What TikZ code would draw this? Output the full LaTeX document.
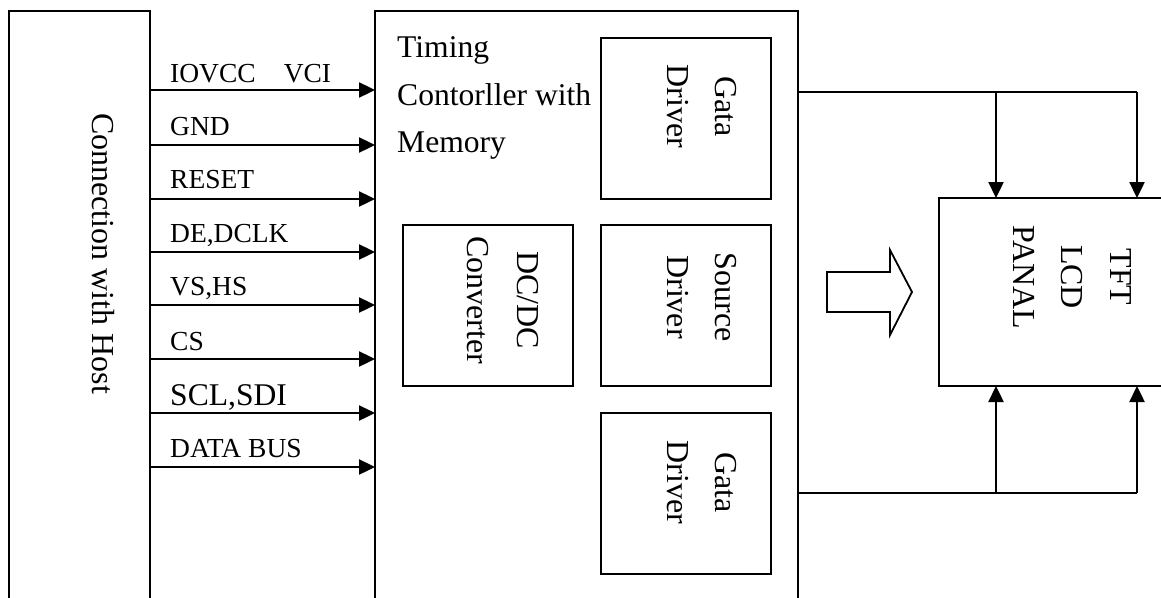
\documentclass[tikz,border=0pt]{standalone}
\usepackage{fontspec}
\setmainfont{Liberation Serif}
\usetikzlibrary{arrows.meta}
\begin{document}
\begin{tikzpicture}[x=1pt,y=-1pt,
  box/.style={draw, line width=1.8pt, inner sep=0pt, outer sep=0pt, anchor=north west},
  lbl/.style={anchor=base west, inner sep=0pt, font=\fontsize{27.5}{30}\selectfont},
  biglbl/.style={anchor=base west, inner sep=0pt, font=\fontsize{31.6}{36}\selectfont},
  rtxt/.style={rotate=-90, align=center, inner sep=0pt, font=\fontsize{32}{48}\selectfont},
  sig/.style={line width=2.4pt, -{Triangle[length=16pt,width=15pt]}},
  wire/.style={line width=1.8pt},
  varr/.style={line width=2.4pt, -{Triangle[length=16pt,width=15pt]}}]
\useasboundingbox (0,0) rectangle (1161,597);
\clip (0,0) rectangle (1161,597);

% main boxes
\node[box, minimum width=141pt, minimum height=650pt] (host) at (9,11) {};
\node[box, minimum width=423pt, minimum height=650pt] (tc) at (375,11) {};
\node[box, minimum width=300pt, minimum height=188pt] (tft) at (939,198) {};

% inner boxes
\node[box, minimum width=170pt, minimum height=161pt] (gd1) at (601,38) {};
\node[box, minimum width=170pt, minimum height=161pt] (dc) at (403,225) {};
\node[box, minimum width=170pt, minimum height=161pt] (sd) at (601,225) {};
\node[box, minimum width=170pt, minimum height=161pt] (gd2) at (601,413) {};

% texts
\node[rotate=-90, anchor=base, inner sep=0pt, font=\fontsize{32}{38}\selectfont] (hostt) at (92,253.5) {Connection with Host};
\node[biglbl] (tc1) at (397,57) {Timing};
\node[biglbl] (tc2) at (397,105) {Contorller with};
\node[biglbl] (tc3) at (397,152) {Memory};
\node[rtxt] (gd1t) at (701.5,106.5) {Gata\\Driver};
\node[rtxt, font=\fontsize{32}{50}\selectfont] (dct) at (503,300) {DC/DC\\Converter};
\node[rtxt] (sdt) at (701.5,297) {Source\\Driver};
\node[rtxt] (gd2t) at (701.5,482.5) {Gata\\Driver};
\node[rtxt, font=\fontsize{32}{48.5}\selectfont] (tftt) at (1072,277) {TFT\\LCD\\PANAL};

% signal labels
\node[lbl] (l1) at (170,82) {IOVCC\hspace{28pt}VCI};
\node[lbl] (l2) at (170,135) {GND};
\node[lbl] (l3) at (170,188) {RESET};
\node[lbl] (l4) at (170,242) {DE,DCLK};
\node[lbl] (l5) at (170,295) {VS,HS};
\node[lbl] (l6) at (170,350) {CS};
\node[biglbl] (l7) at (170,405) {SCL,SDI};
\node[lbl] (l8) at (170,457) {DATA BUS};

% signal arrows
\draw[sig] (host.east |- 0,90) -- (tc.west |- 0,90);
\draw[sig] (host.east |- 0,145) -- (tc.west |- 0,145);
\draw[sig] (host.east |- 0,199) -- (tc.west |- 0,199);
\draw[sig] (host.east |- 0,252) -- (tc.west |- 0,252);
\draw[sig] (host.east |- 0,305) -- (tc.west |- 0,305);
\draw[sig] (host.east |- 0,359) -- (tc.west |- 0,359);
\draw[sig] (host.east |- 0,413) -- (tc.west |- 0,413);
\draw[sig] (host.east |- 0,467) -- (tc.west |- 0,467);

% gate connections
\coordinate (a1) at (996,92);
\coordinate (a2) at (1137,92);
\coordinate (b1) at (996,493);
\coordinate (b2) at (1137,493);
\draw[wire] (tc.east |- a1) -- (a2);
\draw[wire] (tc.east |- b1) -- (b2);
\draw[varr] (a1) -- (a1 |- tft.north);
\draw[varr] (a2) -- (a2 |- tft.north);
\draw[varr] (b1) -- (b1 |- tft.south);
\draw[varr] (b2) -- (b2 |- tft.south);

% hollow block arrow
\draw[line width=1.8pt, line join=miter] (827,272) -- (890,272) -- (890,250) -- (912,292) -- (890,335) -- (890,312) -- (827,312) -- cycle;
\end{tikzpicture}
\end{document}
